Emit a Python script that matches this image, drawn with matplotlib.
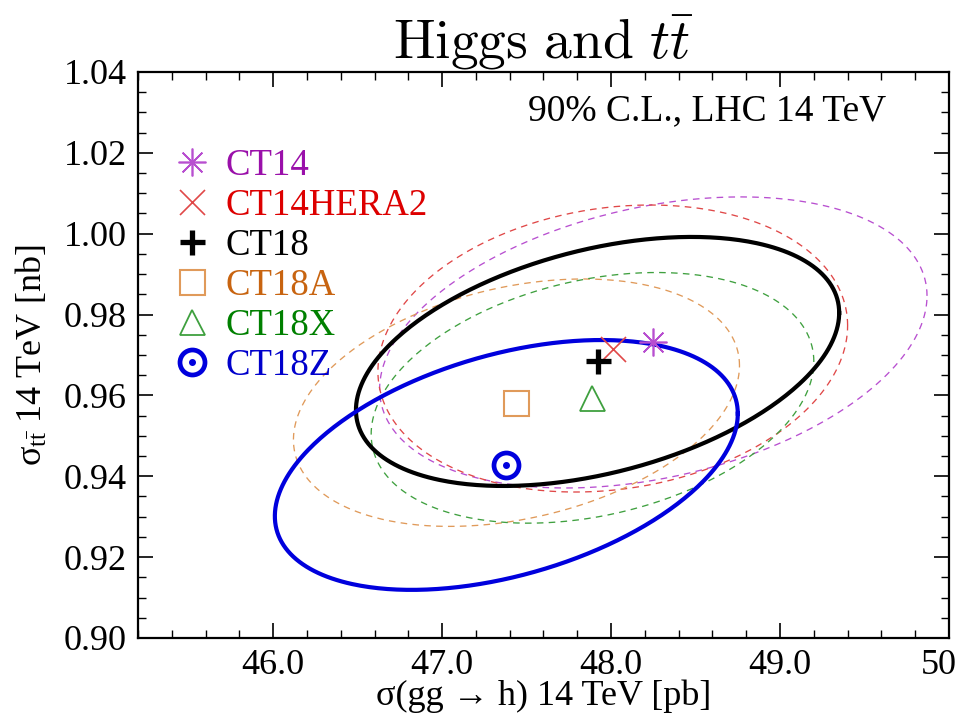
import numpy as np
import matplotlib
matplotlib.use("Agg")
import matplotlib.pyplot as plt
from matplotlib.ticker import MultipleLocator, FixedLocator, FixedFormatter
from matplotlib.legend_handler import HandlerTuple
from matplotlib.transforms import ScaledTranslation

plt.rcParams['font.family'] = ['Liberation Serif', 'DejaVu Serif']
plt.rcParams['mathtext.fontset'] = 'custom'
plt.rcParams['mathtext.rm'] = 'Liberation Serif'
plt.rcParams['mathtext.it'] = 'Liberation Serif:italic'

# ---- data ----
names = ['CT14', 'CT14HERA2', 'CT18', 'CT18A', 'CT18X', 'CT18Z']
sigma_h = [48.25, 48.01, 47.92, 47.44, 47.89, 47.38]        # pb
sigma_tt = [0.9731, 0.9716, 0.9684, 0.9582, 0.9594, 0.9428]  # nb
err_h = [1.62, 1.39, 1.43, 1.32, 1.31, 1.37]
err_tt = [0.0360, 0.0355, 0.0308, 0.0306, 0.0310, 0.0309]
rho = [0.32, 0.16, 0.39, 0.30, 0.29, 0.41]

x_ticks = [46.0, 47.0, 48.0, 49.0, 50.0]
x_ticklabels = ['46.0', '47.0', '48.0', '49.0', '50']
y_ticks = [0.90, 0.92, 0.94, 0.96, 0.98, 1.00, 1.02, 1.04]

# ---- styles ----
line_colors = ['#b84fd0', '#e04848', 'black', '#e09a5a', '#3fa03f', '#0000dd']
text_colors = ['#9a10aa', '#dd0000', 'black', '#c86410', '#008000', '#0000cc']
line_styles = ['--', '--', '-', '--', '--', '-']
line_widths = [0.95, 0.95, 3.0, 0.95, 0.95, 3.0]

fig = plt.figure(figsize=(9.61, 7.17), dpi=100)
ax = fig.add_axes([0.1436, 0.1102, 0.8439, 0.7894])

t = np.linspace(0, 2 * np.pi, 400)
order = [0, 1, 3, 4, 2, 5]
for i in order:
    phi = np.arccos(rho[i])
    ex = sigma_h[i] + err_h[i] * np.cos(t)
    ey = sigma_tt[i] + err_tt[i] * np.cos(t - phi)
    ls = line_styles[i]
    kw = dict(color=line_colors[i], lw=line_widths[i], zorder=2 if ls == '--' else 3)
    if ls == '--':
        kw['dashes'] = (5, 4)
    ax.plot(ex, ey, **kw)

h0, = ax.plot(sigma_h[0], sigma_tt[0], ls='none', marker=(8, 2, 0), ms=20,
              mec=line_colors[0], mew=1.2, zorder=5)
h1, = ax.plot(sigma_h[1], sigma_tt[1], ls='none', marker='x', ms=18,
              mec=line_colors[1], mew=1.2, zorder=5)
h2, = ax.plot(sigma_h[2], sigma_tt[2], ls='none', marker='+', ms=18,
              mec='black', mew=3.8, zorder=6)
h3, = ax.plot(sigma_h[3], sigma_tt[3], ls='none', marker='s', ms=18,
              mfc='none', mec=line_colors[3], mew=1.5, zorder=5)
h4, = ax.plot(sigma_h[4], sigma_tt[4], ls='none', marker='^', ms=18,
              mfc='none', mec=line_colors[4], mew=1.3, zorder=5)
h5a, = ax.plot(sigma_h[5], sigma_tt[5], ls='none', marker='o', ms=18,
               mfc='none', mec=line_colors[5], mew=3.4, zorder=5)
h5b, = ax.plot(sigma_h[5], sigma_tt[5], ls='none', marker='o', ms=4,
               mfc=line_colors[5], mec=line_colors[5], zorder=5)
handles = [h0, h1, h2, h3, h4, (h5a, h5b)]

leg = ax.legend(handles, names, loc='upper left', bbox_to_anchor=(0.0, 0.925),
                frameon=False, fontsize=26.5, labelcolor=text_colors,
                handlelength=1.1, handletextpad=0.36, labelspacing=0.15,
                borderaxespad=0.62, borderpad=0.3,
                handler_map={tuple: HandlerTuple(ndivide=1)})

ax.text(0.923, 0.932, '90% C.L., LHC 14 TeV', transform=ax.transAxes,
        ha='right', va='center', fontsize=27)

ax.set_xlim(45.2, 50.0)
ax.set_ylim(0.90, 1.04)
ax.xaxis.set_major_locator(FixedLocator(x_ticks))
ax.xaxis.set_major_formatter(FixedFormatter(x_ticklabels))
ax.xaxis.set_minor_locator(MultipleLocator(0.2))
ax.yaxis.set_major_locator(FixedLocator(y_ticks))
ax.yaxis.set_major_formatter(plt.FuncFormatter(lambda v, p: f'{v:.2f}'))
ax.yaxis.set_minor_locator(MultipleLocator(0.005))
ax.tick_params(which='both', direction='in', top=True, right=True, labelsize=26)
ax.tick_params(which='major', length=11, width=1.2, pad=8)
ax.tick_params(which='minor', length=6, width=1.0)
for s in ax.spines.values():
    s.set_linewidth(1.6)

# keep the last x tick label ("50") inside the canvas, as in the reference
fig.canvas.draw()
lab = ax.get_xticklabels()[-1]
lab.set_transform(lab.get_transform() + ScaledTranslation(-7 / 72, 0, fig.dpi_scale_trans))

ax.set_xlabel('σ(gg → h) 14 TeV [pb]', fontsize=26, labelpad=-2)
ax.set_ylabel(r'$\mathrm{σ}_{\mathrm{t\bar{t}}}$ 14 TeV [nb]', fontsize=26, labelpad=10)
ax.set_title(r'$\mathrm{Higgs\ and\ }t\bar{t}$', fontsize=40, pad=9,
             math_fontfamily='cm')

fig.savefig('out.png', dpi=100)
